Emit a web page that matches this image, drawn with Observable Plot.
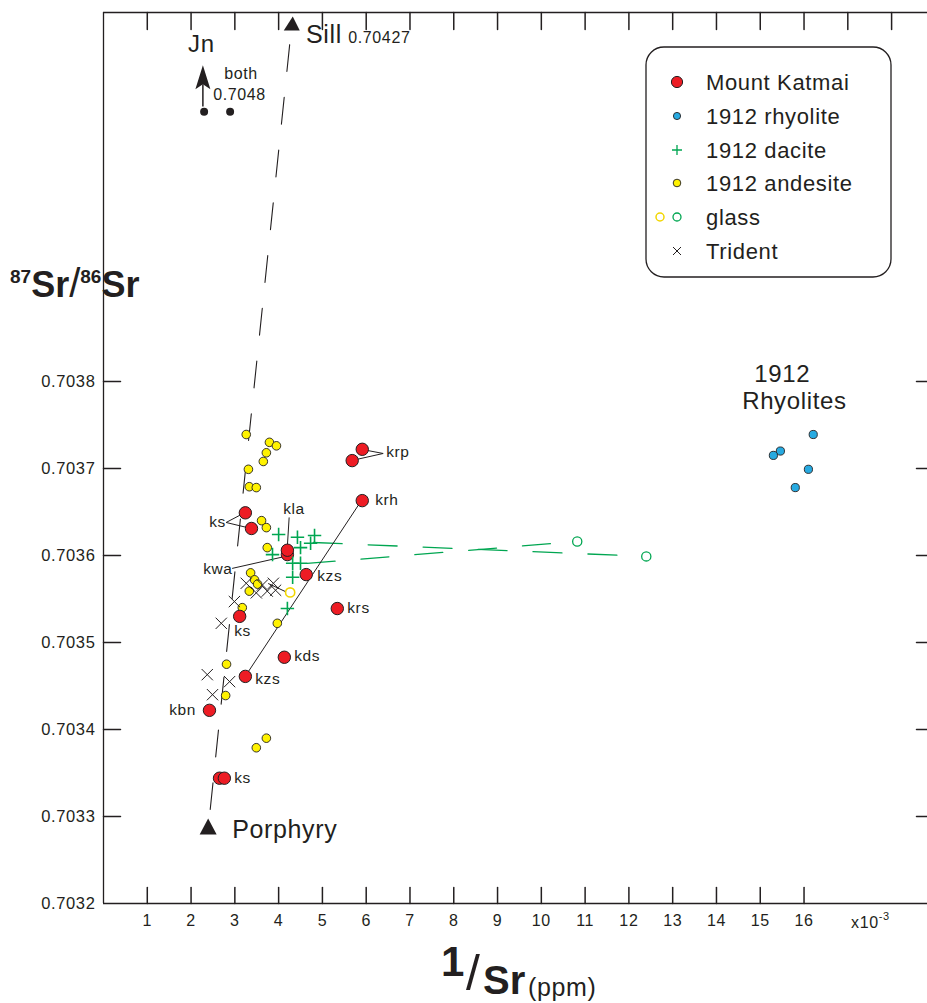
<!DOCTYPE html>
<html><head><meta charset="utf-8">
<script src="https://cdn.jsdelivr.net/npm/d3@7"></script>
<script src="https://cdn.jsdelivr.net/npm/@observablehq/plot@0.6"></script>
<style>
body{margin:0;background:#fff;}
#wrap{position:relative;width:927px;height:1003px;font-family:"Liberation Sans",Arial,Helvetica,sans-serif;}
#wrap svg.over{position:absolute;left:0;top:0;pointer-events:none;}
</style></head><body><div id="wrap"></div>
<script>
// ---- data (x = 1/Sr ×10^-3, y = 87Sr/86Sr) ----
const katmai = [[5.91,0.703722],[5.68,0.703709],[5.91,0.703663],[3.24,0.703649],[3.38,0.703631],[4.20,0.703601],[4.20,0.703606],[4.63,0.703578],[5.34,0.703539],[3.11,0.703530],[4.13,0.703483],[3.24,0.703461],[2.42,0.703422],[2.65,0.703344],[2.76,0.703344]];
const rhyolite = [[16.21,0.703739],[15.46,0.703720],[15.30,0.703715],[16.10,0.703699],[15.80,0.703678]];
const dacite = [[4.00,0.703624],[4.43,0.703621],[4.82,0.703623],[4.73,0.703614],[4.50,0.703609],[3.86,0.703601],[4.32,0.703591],[4.50,0.703591],[4.32,0.703575],[4.20,0.703539]];
const andesite = [[3.26,0.703739],[3.79,0.703730],[3.95,0.703726],[3.72,0.703718],[3.65,0.703708],[3.31,0.703699],[3.33,0.703679],[3.49,0.703678],[3.61,0.703640],[3.72,0.703632],[3.74,0.703609],[3.36,0.703580],[3.45,0.703572],[3.52,0.703567],[3.33,0.703559],[3.17,0.703540],[3.97,0.703522],[2.81,0.703475],[2.79,0.703439],[3.72,0.703390],[3.49,0.703379]];
const glassAndesite = [[4.263,0.7035575]];
const glassDacite = [[10.82,0.7036161],[12.397,0.7035989]];
const trident = [[3.26,0.703568],[3.49,0.703557],[3.63,0.703566],[3.74,0.703559],[3.88,0.703568],[3.93,0.703560],[2.99,0.703547],[2.69,0.703522],[2.37,0.703463],[2.88,0.703455],[2.49,0.703440]];
const jnSamples = [[2.298,0.704110],[2.892,0.704110]];
const porphyry = [[2.39,0.7032793]];
const sillHead = [[4.30,0.7042034]];
const jnHead = [[2.27,0.7041460]];
const jnShaft = [[2.27,0.7041161,2.27,0.7041414]];
const mixLine = [[2.39,0.7032851],[4.286,0.7042034]];
const glassLineA = [[4.789,0.7036149],[12.283,0.7035991]];
const glassLineB = [[4.652,0.7035908],[10.706,0.7036156]];
const leaders = [
  [6.388,0.7037172,5.908,0.7037218],[6.388,0.7037172,5.680,0.7037092],
  [2.801,0.7036379,3.235,0.7036494],[2.801,0.7036379,3.372,0.7036310],
  [4.240,0.7036437,4.195,0.7036069],
  [2.938,0.7035851,4.150,0.7035989],
  [3.761,0.7035678,4.150,0.7035586],
  [3.235,0.7034609,5.908,0.7036644]
];
const sampleLabels = [["krp",6.456,0.7037184],["krh",6.204,0.7036632],["ks",2.413,0.7036379],["kla",4.103,0.7036529],["kwa",2.276,0.7035839],["kzs",4.880,0.7035759],["krs",5.566,0.7035391],["ks",2.984,0.7035126],["kds",4.355,0.7034839],["kzs",3.464,0.7034575],["kbn",1.499,0.7034218],["ks",2.984,0.7033437]];
const bigLabels = [["Porphyry",2.938,0.7032839],["Sill",4.624,0.7041983]];
const midLabels = [["0.70427",5.588,0.7041943],["both",2.756,0.7041529],["0.7048",2.504,0.7041299]];
const centerLabels = [["Jn",2.234,0.7041874],["1912",15.50,0.7038086],["Rhyolites",15.78,0.7037770]];
const xTicks = [1,2,3,4,5,6,7,8,9,10,11,12,13,14,15,16];
const xTopTicks = [1,2,3,4,5,6,7,8,9,10,11,12,13,14,15,16,17,18];
const yTicks = [0.7032,0.7033,0.7034,0.7035,0.7036,0.7037,0.7038];
const yTickMarks = [0.7033,0.7034,0.7035,0.7036,0.7037,0.7038];
const legendItems = ["Mount Katmai","1912 rhyolite","1912 dacite","1912 andesite","glass","Trident"];

const INK = "#231f20", RED = "#ed1c24", BLUE = "#27aae1", GREEN = "#00a651", YEL = "#fff200", YELG = "#f2d600";
const FONT = '"Liberation Sans", Arial, Helvetica, sans-serif';
const X = d => d[0], Y = d => d[1];
const tickShape = {draw(ctx, l) { ctx.moveTo(0, 0); ctx.lineTo(0, -l); }};
const headUp = {draw(ctx) { ctx.moveTo(0, -15); ctx.lineTo(7.5, 9); ctx.lineTo(0, 4); ctx.lineTo(-7.5, 9); ctx.closePath(); }};
const triUp = {draw(ctx) { ctx.moveTo(1, -14); ctx.lineTo(8, 0); ctx.lineTo(-8, 0); ctx.closePath(); }};
const triPorph = {draw(ctx) { ctx.moveTo(0, -16); ctx.lineTo(8.5, 0); ctx.lineTo(-8.5, 0); ctx.closePath(); }};

const chart = Plot.plot({
  width: 927, height: 1003,
  marginLeft: 103, marginRight: 0, marginTop: 12, marginBottom: 100,
  x: {domain: [0, 18.82]},
  y: {domain: [0.7032, 0.704224]},
  style: {fontFamily: FONT, fontSize: "16px", color: INK, background: "white", letterSpacing: "0.04em"},
  marks: [
    Plot.axisX(xTicks, {tickSize: 0, tickPadding: 11, label: null, fontSize: 16}),
    Plot.axisY(yTicks, {tickSize: 0, tickPadding: 8, label: null, fontSize: 16.5, tickFormat: d => d.toFixed(4)}),
    Plot.ruleX([0], {stroke: INK, strokeWidth: 1.3}),
    Plot.ruleY([0.7032, 0.704224], {stroke: INK, strokeWidth: 1.3}),
    Plot.vector(xTicks, {x: d => d, y: () => 0.7032, length: 16, rotate: 0, anchor: "start", shape: tickShape, stroke: INK}),
    Plot.vector(xTopTicks, {x: d => d, frameAnchor: "top", length: 17, rotate: 180, anchor: "start", shape: tickShape, stroke: INK}),
    Plot.vector(yTickMarks, {y: d => d, frameAnchor: "left", length: 17, rotate: 90, anchor: "start", shape: tickShape, stroke: INK}),
    Plot.vector(yTickMarks, {y: d => d, frameAnchor: "right", length: 11, rotate: -90, anchor: "start", shape: tickShape, stroke: INK}),
    // mixing / connecting lines
    Plot.line(mixLine, {x: X, y: Y, stroke: INK, strokeWidth: 1.1, strokeDasharray: "27,26", strokeDashoffset: 33}),
    Plot.line(glassLineA, {x: X, y: Y, stroke: GREEN, strokeWidth: 1.3, strokeDasharray: "29,26"}),
    Plot.line(glassLineB, {x: X, y: Y, stroke: GREEN, strokeWidth: 1.3, strokeDasharray: "28,26"}),
    Plot.link(leaders, {x1: d => d[0], y1: d => d[1], x2: d => d[2], y2: d => d[3], stroke: INK, strokeWidth: 1}),
    Plot.link(jnShaft, {x1: d => d[0], y1: d => d[1], x2: d => d[2], y2: d => d[3], stroke: INK, strokeWidth: 1.5}),
    // symbols
    Plot.dot(andesite, {x: X, y: Y, r: 4.3, fill: YEL, stroke: INK, strokeWidth: 0.9}),
    Plot.dot(glassAndesite, {x: X, y: Y, r: 4.6, fill: "white", stroke: YELG, strokeWidth: 1.6}),
    Plot.dot(glassDacite, {x: X, y: Y, r: 4.6, fill: "none", stroke: GREEN, strokeWidth: 1.3}),
    Plot.dot(trident, {x: X, y: Y, r: 5.2, symbol: "times", stroke: INK, strokeWidth: 1}),
    Plot.dot(katmai, {x: X, y: Y, r: 6.2, fill: RED, stroke: INK, strokeWidth: 1}),
    Plot.dot(rhyolite, {x: X, y: Y, r: 4.1, fill: BLUE, stroke: INK, strokeWidth: 0.9}),
    Plot.dot(dacite, {x: X, y: Y, r: 4.4, symbol: "plus", stroke: GREEN, strokeWidth: 1.6}),
    Plot.dot(jnSamples, {x: X, y: Y, r: 4, fill: INK}),
    Plot.dot(porphyry, {x: X, y: Y, symbol: triPorph, fill: INK, stroke: "none"}),
    Plot.dot(sillHead, {x: X, y: Y, symbol: triUp, fill: INK, stroke: "none"}),
    Plot.dot(jnHead, {x: X, y: Y, symbol: headUp, fill: INK, stroke: "none"}),
    // labels
    Plot.text(sampleLabels, {x: d => d[1], y: d => d[2], text: d => d[0], textAnchor: "start", fontSize: 15.5, fill: INK}),
    Plot.text(bigLabels, {x: d => d[1], y: d => d[2], text: d => d[0], textAnchor: "start", fontSize: 25, fill: INK}),
    Plot.text(midLabels, {x: d => d[1], y: d => d[2], text: d => d[0], textAnchor: "start", fontSize: 16, fill: INK}),
    Plot.text(centerLabels, {x: d => d[1], y: d => d[2], text: d => d[0], textAnchor: "middle", fontSize: 24, fill: INK})
  ]
});
const wrap = document.getElementById("wrap");
wrap.appendChild(chart);

// ---- overlay: axis titles and legend ----
const over = d3.select(wrap).append("svg").attr("class", "over").attr("width", 927).attr("height", 1003)
  .style("font-family", FONT).style("letter-spacing", "0.04em");
// y title
const yt = over.append("text").attr("x", 10).attr("y", 297).attr("font-weight", "bold").attr("fill", INK).style("letter-spacing", "0");
yt.append("tspan").attr("font-size", 19).attr("dy", -14).text("87");
yt.append("tspan").attr("font-size", 36).attr("dy", 14).text("Sr");
yt.append("tspan").attr("font-size", 40).attr("font-weight", "normal").text("/");
yt.append("tspan").attr("font-size", 19).attr("dy", -14).text("86");
yt.append("tspan").attr("font-size", 36).attr("dy", 14).text("Sr");
// x title
over.append("text").attr("x", 441).attr("y", 976).attr("font-weight", "bold").attr("font-size", 42).attr("fill", INK).style("letter-spacing", "0").text("1");
over.append("text").attr("x", 466).attr("y", 990).attr("font-size", 50).attr("fill", INK).style("letter-spacing", "0").text("/");
over.append("text").attr("x", 483).attr("y", 994).attr("font-weight", "bold").attr("font-size", 40).attr("fill", INK).style("letter-spacing", "0").text("Sr");
over.append("text").attr("x", 528).attr("y", 996).attr("font-size", 25).attr("fill", INK).text("(ppm)");
// x10^-3
const xm = over.append("text").attr("x", 851).attr("y", 928).attr("font-size", 16).attr("fill", INK);
xm.append("tspan").text("x10");
xm.append("tspan").attr("font-size", 11).attr("dy", -8).text("-3");
// legend
const lg = over.append("g").attr("transform", "translate(646,47)");
lg.append("rect").attr("width", 245).attr("height", 230).attr("rx", 18).attr("fill", "white").attr("stroke", INK).attr("stroke-width", 1.3);
const rowY = [35, 69, 103, 136, 170, 204];
lg.append("circle").attr("cx", 31).attr("cy", rowY[0]).attr("r", 5.6).attr("fill", RED).attr("stroke", INK);
lg.append("circle").attr("cx", 31).attr("cy", rowY[1]).attr("r", 3.6).attr("fill", BLUE).attr("stroke", INK).attr("stroke-width", 0.9);
lg.append("path").attr("d", `M26,${rowY[2]}H36M31,${rowY[2]-5}V${rowY[2]+5}`).attr("stroke", GREEN).attr("stroke-width", 1.3);
lg.append("circle").attr("cx", 31).attr("cy", rowY[3]).attr("r", 3.8).attr("fill", YEL).attr("stroke", INK).attr("stroke-width", 0.9);
lg.append("circle").attr("cx", 14).attr("cy", rowY[4]).attr("r", 4).attr("fill", "none").attr("stroke", YELG).attr("stroke-width", 1.5);
lg.append("circle").attr("cx", 31).attr("cy", rowY[4]).attr("r", 4).attr("fill", "none").attr("stroke", GREEN).attr("stroke-width", 1.3);
lg.append("path").attr("d", `M27,${rowY[5]-4}L35,${rowY[5]+4}M27,${rowY[5]+4}L35,${rowY[5]-4}`).attr("stroke", INK).attr("stroke-width", 1);
legendItems.forEach((t, i) => {
  lg.append("text").attr("x", 60).attr("y", rowY[i]).attr("dy", "0.35em").attr("font-size", 22).attr("fill", INK).text(t);
});
</script></body></html>
